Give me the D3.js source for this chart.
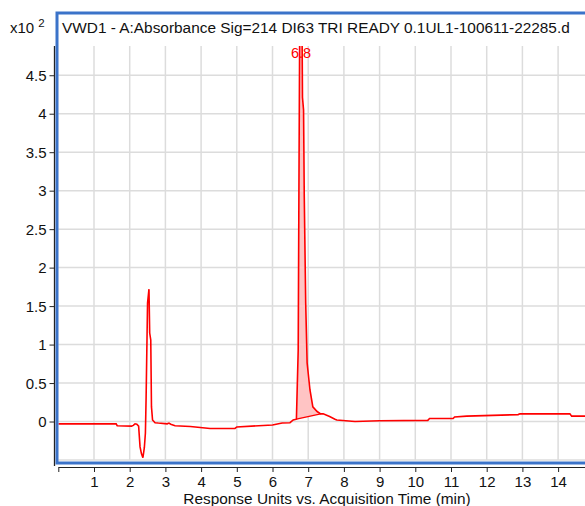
<!DOCTYPE html>
<html>
<head>
<meta charset="utf-8">
<script src="https://cdn.jsdelivr.net/npm/d3@7"></script>
<style>
  body { margin: 0; background: #fff; }
  svg { display: block; font-family: "Liberation Sans", Arial, sans-serif; }
</style>
</head>
<body>
<div id="chart"></div>
<script>
// chromatogram trace, time in minutes, response in x10^2 units
const times = [0, 1.62, 1.65, 2.05, 2.1, 2.15, 2.2, 2.25, 2.29, 2.33, 2.37, 2.41, 2.44, 2.46, 2.5, 2.54, 2.56, 2.59, 2.61, 2.64, 2.71, 2.8, 3.05, 3.1, 3.15, 3.27, 3.7, 4.25, 4.95, 5.0, 6.0, 6.27, 6.49, 6.58, 6.67, 6.72, 6.74, 6.76, 6.83, 6.84, 6.87, 6.89, 6.93, 6.97, 7.05, 7.13, 7.25, 7.35, 7.42, 7.6, 7.75, 7.8, 8.31, 9.0, 10.35, 10.4, 11.06, 11.1, 11.44, 12.88, 12.93, 14.33, 14.38, 15];
const response = [-0.03, -0.03, -0.055, -0.06, -0.05, -0.03, -0.035, -0.06, -0.33, -0.42, -0.47, -0.34, -0.15, 0.32, 1.54, 1.72, 1.15, 1.06, 0.19, 0.02, -0.015, -0.02, -0.03, -0.02, -0.035, -0.055, -0.065, -0.09, -0.09, -0.07, -0.045, -0.02, -0.015, 0.02, 0.03, 0.93, 3.0, 4.95, 4.95, 4.21, 4.05, 2.92, 1.54, 0.76, 0.41, 0.19, 0.13, 0.1, 0.1, 0.065, 0.03, 0.02, 0.0, 0.01, 0.015, 0.04, 0.04, 0.06, 0.07, 0.09, 0.1, 0.1, 0.07, 0.07];

// integrated peak: start/end time and baseline values
const peakStart = [6.67, 0.03];
const peakEnd = [7.35, 0.1];
const peakLabel = "6.8";
const peakTime = 6.8;

const xTicks = [0, 1, 2, 3, 4, 5, 6, 7, 8, 9, 10, 11, 12, 13, 14];
const yTicks = [0, 0.5, 1, 1.5, 2, 2.5, 3, 3.5, 4, 4.5];
const yGrid = [-0.5, 0, 0.5, 1, 1.5, 2, 2.5, 3, 3.5, 4, 4.5];

const title = "VWD1 - A:Absorbance Sig=214 DI63 TRI READY 0.1UL1-100611-22285.d";
const xTitle = "Response Units vs. Acquisition Time (min)";

const width = 585, height = 506;
const plotTop = 46, plotBottom = 460, plotLeft = 58.3;

const svg = d3.select("#chart").append("svg")
    .attr("width", width)
    .attr("height", height);

const x = d3.scaleLinear().domain([0, 15]).range([plotLeft, plotLeft + 15 * 35.7]);
const y = d3.scaleLinear().domain([-0.5, 4.88]).range([plotBottom, plotTop]);

svg.append("defs").append("clipPath").attr("id", "plotclip")
  .append("rect")
    .attr("x", plotLeft).attr("y", plotTop)
    .attr("width", width - plotLeft).attr("height", plotBottom - plotTop);

// grid
const grid = svg.append("g");
grid.selectAll("line.v").data(xTicks.slice(1)).enter().append("line")
    .attr("x1", d => x(d)).attr("x2", d => x(d))
    .attr("y1", plotTop).attr("y2", plotBottom)
    .attr("stroke", "#dcdcdc").attr("stroke-width", 1.5);
grid.selectAll("line.h").data(yGrid).enter().append("line")
    .attr("x1", plotLeft).attr("x2", width)
    .attr("y1", d => y(d)).attr("y2", d => y(d))
    .attr("stroke", "#dcdcdc").attr("stroke-width", 1.5);

const pts = times.map((t, i) => [t, response[i]]);

// peak fill between trace and drawn baseline
const baseAt = t => peakStart[1] + (t - peakStart[0]) / (peakEnd[0] - peakStart[0]) * (peakEnd[1] - peakStart[1]);
const peakPts = pts.filter(p => p[0] >= peakStart[0] && p[0] <= peakEnd[0]);

const plot = svg.append("g").attr("clip-path", "url(#plotclip)");

plot.append("path")
    .datum(peakPts)
    .attr("fill", "#ffc4c4")
    .attr("d", d3.area().x(d => x(d[0])).y0(d => y(baseAt(d[0]))).y1(d => y(d[1])));

plot.append("line")
    .attr("x1", x(peakStart[0])).attr("y1", y(peakStart[1]))
    .attr("x2", x(peakEnd[0])).attr("y2", y(peakEnd[1]))
    .attr("stroke", "#ff0000").attr("stroke-width", 1.3);

plot.append("path")
    .datum(pts)
    .attr("fill", "none")
    .attr("stroke", "#ff0000")
    .attr("stroke-width", 1.6)
    .attr("d", d3.line().x(d => x(d[0])).y(d => y(d[1])));

// peak label
svg.append("text")
    .attr("x", x(peakTime)).attr("y", 58)
    .attr("text-anchor", "middle")
    .attr("fill", "#ff0000")
    .style("font-size", "14.5px")
    .text(peakLabel);

// y axis
const yAxis = svg.append("g").attr("transform", "translate(54.5,0)")
    .call(d3.axisLeft(y).tickValues(yTicks).tickSize(5).tickFormat(d3.format("")));
yAxis.select(".domain").attr("d", `M0,${plotTop}V${plotBottom + 6}`).attr("stroke", "#222").attr("stroke-width", 1.3);
yAxis.selectAll(".tick line").attr("stroke", "#222");
yAxis.selectAll(".tick text").style("font-size", "15px").attr("fill", "#111").attr("x", -8).attr("dy", "0.35em");

// x axis
const xAxis = svg.append("g").attr("transform", "translate(0,467)")
    .call(d3.axisBottom(x).tickValues(xTicks).tickSize(5).tickSizeOuter(0)
      .tickFormat(d => d === 0 ? "" : d));
xAxis.select(".domain").attr("stroke", "#222");
xAxis.selectAll(".tick line").attr("stroke", "#222");
xAxis.selectAll(".tick text").style("font-size", "15px").attr("fill", "#111").attr("y", 9);

svg.append("text")
    .attr("x", 327).attr("y", 504)
    .attr("text-anchor", "middle")
    .style("font-size", "15.4px")
    .attr("fill", "#111")
    .text(xTitle);

// blue frame
svg.append("rect")
    .attr("x", 57).attr("y", 13)
    .attr("width", width + 10).attr("height", 450)
    .attr("fill", "none")
    .attr("stroke", "#3b73c9")
    .attr("stroke-width", 3);

svg.append("text")
    .attr("x", 62).attr("y", 33)
    .style("font-size", "15.4px")
    .attr("fill", "#111")
    .text(title);

const mult = svg.append("text").attr("x", 10).attr("y", 33).style("font-size", "15px").attr("fill", "#111");
mult.append("tspan").text("x10 ");
mult.append("tspan").attr("dy", -6).style("font-size", "11.5px").text("2");
</script>
</body>
</html>
